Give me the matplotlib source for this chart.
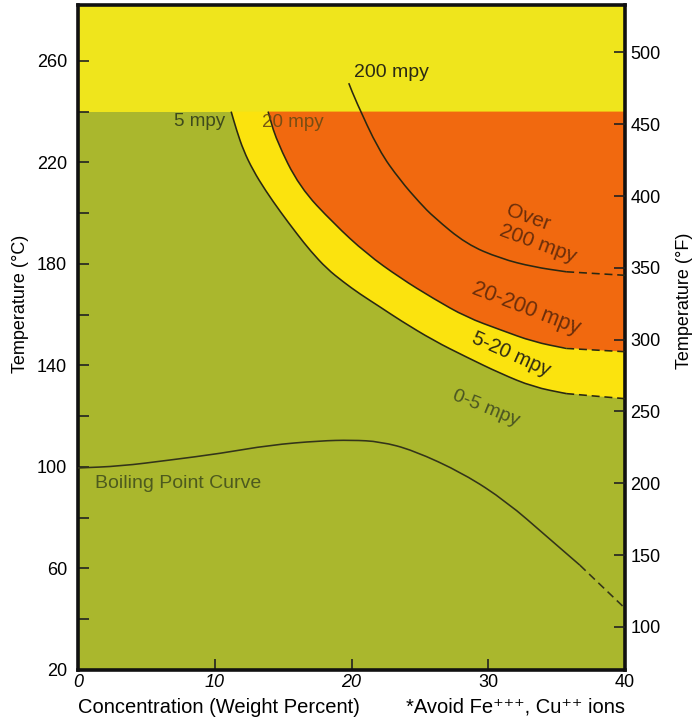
import matplotlib
matplotlib.use("Agg")
import matplotlib.pyplot as plt
from matplotlib.path import Path
from matplotlib.patches import PathPatch

plt.rcParams['font.family'] = ['Liberation Sans', 'DejaVu Sans']

# Iso-corrosion boundaries: concentration (wt %) vs temperature (deg C)
conc_5mpy = [11.2, 11.6, 12.1, 12.8, 13.7, 14.8, 16.0, 17.0, 18.2, 19.4, 20.6, 22.1, 23.55,
             26.0, 28.4, 30.9, 33.3, 35.7, 40.0]
temp_5mpy = [240, 232.6, 224.7, 216.9, 209.0, 200.5, 191.9, 185.1, 178.1, 172.9, 168.2, 163.0, 157.8,
             149.8, 143.3, 136.8, 131.5, 128.9, 126.9]

conc_20mpy = [13.9, 14.5, 16.2, 18.7, 21.1, 23.55, 26.0, 28.4, 30.9, 33.3, 35.7, 40.0]
temp_20mpy = [240, 228.7, 210.3, 195.9, 184.0, 174.5, 166.3, 159.0, 154.0, 149.3, 146.7, 145.4]

conc_200mpy = [19.8, 20.3, 22.0, 23.55, 25.0, 26.0, 28.4, 30.9, 33.3, 35.7, 40.0]
temp_200mpy = [251.2, 244.4, 224.7, 213.0, 204.0, 198.5, 187.8, 182.1, 178.8, 176.9, 175.5]

# Boiling point curve
conc_boil = [0, 3.1, 6.7, 10.4, 14.0, 17.7, 20.0, 22.1, 24.5, 28.2, 31.35, 34.3, 36.7, 40.0]
temp_boil = [99.6, 100.3, 102.7, 105.3, 108.6, 110.3, 110.6, 110.0, 106.6, 97.4, 86.3, 72.5, 61.3, 44.3]

ceiling = 240          # upper temperature of the rated region
dash_from = 35.7       # iso-corrosion lines are extrapolated beyond this
boil_dash_from = 36.7  # boiling curve extrapolated beyond this

x_ticks = [0, 10, 20, 30, 40]
c_ticks = [20, 60, 100, 140, 180, 220, 260]
c_minor = [40, 80, 120, 160, 200, 240]
f_ticks = [100, 150, 200, 250, 300, 350, 400, 450, 500]

GREEN = '#aab72d'
TOP_YELLOW = '#efe51c'
BAND_YELLOW = '#fbe30e'
ORANGE = '#f1690f'
LINE = '#2a2812'


def smooth_path(xs, ys):
    """Quadratic Bezier path through the points' midpoints, anchored at both ends."""
    pts = list(zip(xs, ys))
    if len(pts) < 3:
        return list(pts), [Path.MOVETO] + [Path.LINETO] * (len(pts) - 1)
    verts = [pts[0]]
    codes = [Path.MOVETO]
    mids = [((a[0] + b[0]) / 2, (a[1] + b[1]) / 2) for a, b in zip(pts[:-1], pts[1:])]
    verts.append(mids[0])
    codes.append(Path.LINETO)
    for i in range(1, len(pts) - 1):
        verts += [pts[i], mids[i]]
        codes += [Path.CURVE3, Path.CURVE3]
    verts.append(pts[-1])
    codes.append(Path.LINETO)
    return verts, codes


fig = plt.figure(figsize=(6.98, 7.24), dpi=100)
ax = fig.add_axes([78 / 698, 54 / 724, 547 / 698, 665 / 724])
ax.set_xlim(0, 40)
ax.set_ylim(20, 282)
ax.set_facecolor(GREEN)

ax.axhspan(ceiling, 282, color=TOP_YELLOW, lw=0, zorder=0.5)


def fill_region(xs, ys, color, z):
    verts, codes = smooth_path(xs, ys)
    verts = verts + [(xs[-1], ceiling), (xs[0], ceiling), verts[0]]
    codes = codes + [Path.LINETO, Path.LINETO, Path.CLOSEPOLY]
    ax.add_patch(PathPatch(Path(verts, codes), facecolor=color, edgecolor='none', zorder=z))


fill_region(conc_5mpy, temp_5mpy, BAND_YELLOW, 0.6)
fill_region(conc_20mpy, temp_20mpy, ORANGE, 0.7)


def draw_curve(xs, ys, cut, color=LINE, lw=1.15):
    k = max(i for i, x in enumerate(xs) if x <= cut)
    v, c = smooth_path(xs[:k + 1], ys[:k + 1])
    ax.add_patch(PathPatch(Path(v, c), facecolor='none', edgecolor=color, lw=lw,
                           zorder=3, capstyle='butt'))
    v, c = smooth_path(xs[k:], ys[k:])
    ax.add_patch(PathPatch(Path(v, c), facecolor='none', edgecolor=color, lw=lw,
                           zorder=3, linestyle=(0, (5, 3))))


draw_curve(conc_5mpy, temp_5mpy, dash_from)
draw_curve(conc_20mpy, temp_20mpy, dash_from)
draw_curve(conc_200mpy, temp_200mpy, dash_from)
draw_curve(conc_boil, temp_boil, boil_dash_from, color='#33341a')

# Region and line labels
ax.text(22.94, 255.6, '200 mpy', fontsize=14, color='#2b2a14', ha='center', va='center')
ax.text(8.9, 236.1, '5 mpy', fontsize=13.5, color='#3e4a1c', ha='center', va='center')
ax.text(15.74, 235.9, '20 mpy', fontsize=13.5, color='#6a4a14', ha='center', va='center', alpha=0.9)
ax.text(32.94, 198.2, 'Over', fontsize=15, color='#6b2e0a', ha='center', va='center', rotation=-20)
ax.text(33.66, 188.0, '200 mpy', fontsize=15, color='#6b2e0a', ha='center', va='center', rotation=-20)
ax.text(32.8, 162.4, '20-200 mpy', fontsize=15.5, color='#6b2e0a', ha='center', va='center', rotation=-21)
ax.text(31.7, 144.4, '5-20 mpy', fontsize=14.5, color='#2e2a14', ha='center', va='center', rotation=-24)
ax.text(29.8, 123.0, '0-5 mpy', fontsize=14, color='#4a5522', ha='center', va='center', rotation=-22)
ax.text(1.24, 93.6, 'Boiling Point Curve', fontsize=14, color='#4d5a1e', ha='left', va='center')

# Axes styling
ax.set_xticks(x_ticks)
ax.set_yticks(c_ticks)
ax.set_yticks(c_minor, minor=True)
ax.tick_params(axis='both', which='both', direction='in', length=8, width=1.2,
               color='#222222', labelsize=13)
ax.tick_params(axis='y', pad=8)
ax.tick_params(axis='x', pad=3)
for lbl in ax.get_xticklabels()[:3]:
    lbl.set_style('italic')
for s in ax.spines.values():
    s.set_linewidth(2.6)
    s.set_color('#111111')

ax.set_ylabel('Temperature (°C)', fontsize=13)
ax.yaxis.set_label_coords(-0.09, 0.55)
ax.set_xlabel('Concentration (Weight Percent)', fontsize=14.5, loc='left', labelpad=5)
ax.text(1.0, -0.056, '*Avoid Fe⁺⁺⁺, Cu⁺⁺ ions', transform=ax.transAxes,
        fontsize=14.5, ha='right', va='center')

# Fahrenheit scale on the right
ax2 = ax.twinx()
ax2.set_ylim(70, 533)
ax2.set_yticks(f_ticks)
ax2.tick_params(axis='y', direction='in', length=8, width=1.2, color='#222222',
                labelsize=13, pad=4)
for s in ax2.spines.values():
    s.set_visible(False)
ax2.set_ylabel('Temperature (°F)', fontsize=13, rotation=90)
ax2.yaxis.set_label_coords(1.093, 0.555)

fig.savefig('out.png', dpi=100)
